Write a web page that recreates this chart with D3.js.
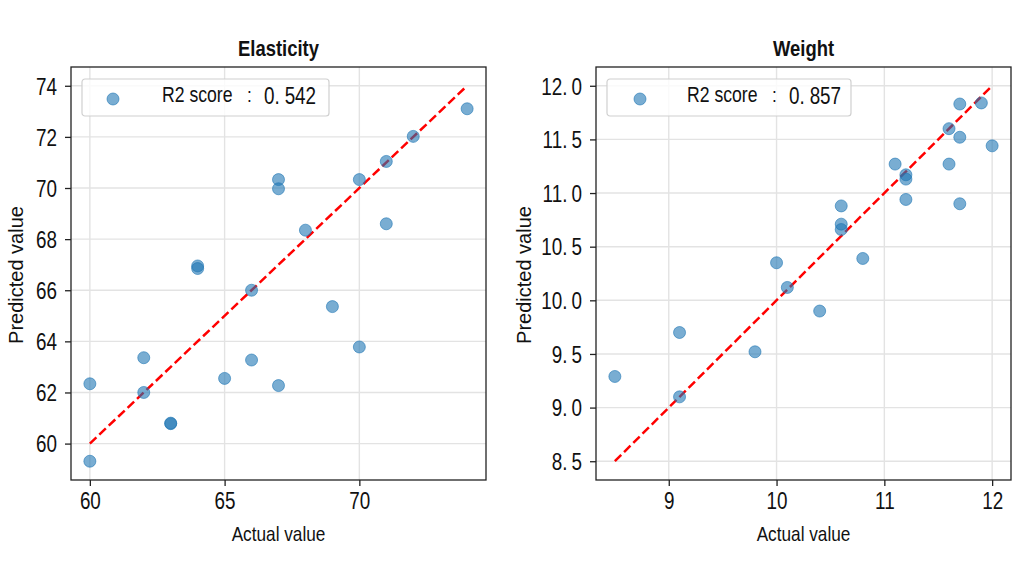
<!DOCTYPE html>
<html>
<head>
<meta charset="utf-8">
<script src="https://cdn.jsdelivr.net/npm/d3@7"></script>
<style>
  body { margin: 0; background: #fff; }
  svg { display: block; }
</style>
</head>
<body>
<div id="chart"></div>
<script>
// actual vs predicted values
const elasActual = [60, 60, 62, 62, 63, 63, 64, 64, 65, 66, 66, 67, 67, 67, 68, 69, 70, 70, 71, 71, 72, 74];
const elasPred = [62.34, 59.31, 63.36, 62.0, 60.78, 60.8, 66.95, 66.85, 62.55, 66.0, 63.27, 70.33, 69.97, 62.27, 68.35, 65.36, 70.33, 63.78, 71.04, 68.6, 72.02, 73.1];
const elasXTicks = [60, 65, 70];
const elasYTicks = [60, 62, 64, 66, 68, 70, 72, 74];

const weightActual = [8.5, 9.1, 9.1, 9.8, 10.0, 10.1, 10.4, 10.6, 10.6, 10.6, 10.8, 11.1, 11.2, 11.2, 11.2, 11.6, 11.6, 11.7, 11.7, 11.7, 11.9, 12.0];
const weightPred = [9.29, 9.70, 9.10, 9.52, 10.35, 10.12, 9.90, 10.88, 10.71, 10.66, 10.39, 11.27, 11.17, 11.13, 10.94, 11.60, 11.27, 11.83, 11.52, 10.90, 11.84, 11.44];
const weightXTicks = [9, 10, 11, 12];
const weightYTicks = [8.5, 9.0, 9.5, 10.0, 10.5, 11.0, 11.5, 12.0];

const titles = ["Elasticity", "Weight"];
const r2Scores = ["0.542", "0.857"];

var width = 1024;
var height = 576;
var FONT = '"Liberation Sans", Arial, sans-serif';
var SQ = 0.82;   // horizontal squeeze, the reference text is narrow
var blue = "#1f77b4";

var svg = d3.select("#chart")
  .append("svg")
  .attr("width", width)
  .attr("height", height)
  .style("font-family", FONT);

svg.append("rect").attr("width", width).attr("height", height).attr("fill", "#fff");

// matplotlib style 5% padding
function padded(vals) {
  let [lo, hi] = d3.extent(vals);
  let m = (hi - lo) * 0.05;
  return [lo - m, hi + m];
}

// number text with a little gap after the decimal point
function dotText(t, s, gap) {
  let parts = s.split(".");
  t.text(parts[0] + (parts.length > 1 ? "." : ""));
  if (parts.length > 1) t.append("tspan").attr("dx", gap).text(parts[1]);
  return t;
}

// horizontal text, squeezed
function hText(parent, x, y, size, anchor) {
  return parent.append("text")
    .attr("transform", `translate(${x},${y}) scale(${SQ},1)`)
    .attr("text-anchor", anchor)
    .style("font-size", size + "px")
    .attr("fill", "#111");
}

function drawPanel(opts) {
  let x0 = opts.left, x1 = opts.right, y0 = 67, y1 = 480;
  let lineVals = [d3.min(opts.actual), d3.max(opts.actual)];

  let x = d3.scaleLinear()
    .domain(padded(opts.actual.concat(lineVals)))
    .range([x0, x1]);
  let y = d3.scaleLinear()
    .domain(padded(opts.pred.concat(lineVals)))
    .range([y1, y0]);

  let g = svg.append("g");

  // grid
  g.append("g").selectAll("line").data(opts.xTicks).join("line")
    .attr("x1", d => x(d)).attr("x2", d => x(d))
    .attr("y1", y0).attr("y2", y1)
    .attr("stroke", "#e3e3e3").attr("stroke-width", 1.4);
  g.append("g").selectAll("line").data(opts.yTicks).join("line")
    .attr("x1", x0).attr("x2", x1)
    .attr("y1", d => y(d)).attr("y2", d => y(d))
    .attr("stroke", "#e3e3e3").attr("stroke-width", 1.4);

  // axes
  let xAxis = g.append("g")
    .attr("transform", `translate(0,${y1})`)
    .call(d3.axisBottom(x).tickValues(opts.xTicks).tickSize(6).tickPadding(7).tickSizeOuter(0));
  let yAxis = g.append("g")
    .attr("transform", `translate(${x0},0)`)
    .call(d3.axisLeft(y).tickValues(opts.yTicks).tickSize(6).tickPadding(8).tickSizeOuter(0));
  [xAxis, yAxis].forEach(a => {
    a.select(".domain").remove();
    a.selectAll(".tick line").attr("stroke", "#222").attr("stroke-width", 1.3);
    a.selectAll(".tick text")
      .attr("fill", "#111")
      .style("font-family", FONT)
      .style("font-size", "23px")
      .attr("transform", `scale(${SQ},1)`);
  });
  xAxis.selectAll(".tick text").each(function(d) { dotText(d3.select(this), opts.xFmt(d), 5); });
  yAxis.selectAll(".tick text")
    .attr("x", -14 / SQ)
    .attr("dy", "0.36em")
    .each(function(d) { dotText(d3.select(this), opts.yFmt(d), 5); });

  // ideal line
  g.append("line")
    .attr("x1", x(lineVals[0])).attr("y1", y(lineVals[0]))
    .attr("x2", x(lineVals[1])).attr("y2", y(lineVals[1]))
    .attr("stroke", "red")
    .attr("stroke-width", 2.5)
    .attr("stroke-dasharray", "9,4");

  // points
  g.append("g").selectAll("circle")
    .data(d3.zip(opts.actual, opts.pred))
    .join("circle")
    .attr("cx", d => x(d[0]))
    .attr("cy", d => y(d[1]))
    .attr("r", 6)
    .attr("fill", blue)
    .attr("fill-opacity", 0.6)
    .attr("stroke", blue)
    .attr("stroke-opacity", 0.6)
    .attr("stroke-width", 1);

  // spines
  g.append("rect")
    .attr("x", x0).attr("y", y0)
    .attr("width", x1 - x0).attr("height", y1 - y0)
    .attr("fill", "none")
    .attr("stroke", "#222")
    .attr("stroke-width", 1.3);

  // title + labels
  hText(g, (x0 + x1) / 2, 56, 22.5, "middle")
    .style("font-weight", "bold")
    .text(opts.title);
  hText(g, (x0 + x1) / 2, 541, 21, "middle")
    .text("Actual value");
  g.append("text")
    .attr("transform", `translate(${opts.ylabelX},275) rotate(-90)`)
    .attr("text-anchor", "middle")
    .attr("dy", "0.35em")
    .style("font-size", "20px")
    .attr("fill", "#111")
    .text("Predicted value");

  // legend
  let leg = g.append("g").attr("transform", `translate(${x0 + 11},79)`);
  leg.append("rect")
    .attr("width", opts.legendW).attr("height", 37)
    .attr("rx", 3)
    .attr("fill", "#fff").attr("fill-opacity", 0.8)
    .attr("stroke", "#d0d0d0").attr("stroke-width", 1.2);
  leg.append("circle")
    .attr("cx", opts.markX).attr("cy", 20).attr("r", 6)
    .attr("fill", blue).attr("fill-opacity", 0.6)
    .attr("stroke", blue).attr("stroke-opacity", 0.6);
  hText(leg, 80, 23, 21.5, "start").text("R2 score");
  hText(leg, 165, 23, 21, "start").text(":");
  dotText(hText(leg, 182, 25, 23, "start"), opts.score, 6);
}

drawPanel({
  left: 71, right: 486,
  actual: elasActual, pred: elasPred,
  xTicks: elasXTicks, yTicks: elasYTicks,
  xFmt: d3.format("d"), yFmt: d3.format("d"),
  title: titles[0], score: r2Scores[0],
  legendW: 247, markX: 31, ylabelX: 16
});

drawPanel({
  left: 596, right: 1011,
  actual: weightActual, pred: weightPred,
  xTicks: weightXTicks, yTicks: weightYTicks,
  xFmt: d3.format("d"), yFmt: d3.format(".1f"),
  title: titles[1], score: r2Scores[1],
  legendW: 244, markX: 33, ylabelX: 524
});
</script>
</body>
</html>
